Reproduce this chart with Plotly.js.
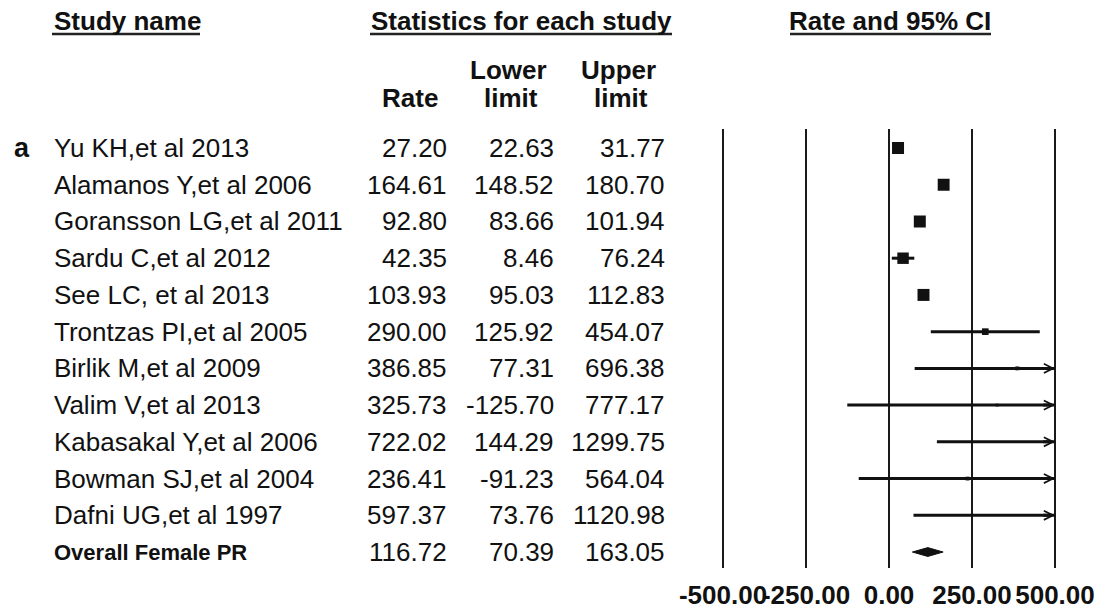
<!DOCTYPE html>
<html>
<head>
<meta charset="utf-8">
<script src="https://cdn.plot.ly/plotly-3.0.1.min.js"></script>
<style>
  html, body { margin: 0; padding: 0; background: #ffffff; }
  #chart { width: 1099px; height: 612px; }
</style>
</head>
<body>
<div id="chart"></div>
<script>
// ---------------- DATA ----------------
const studyNames = [
  "Yu KH,et al 2013",
  "Alamanos Y,et al 2006",
  "Goransson LG,et al 2011",
  "Sardu C,et al 2012",
  "See LC, et al 2013",
  "Trontzas PI,et al 2005",
  "Birlik M,et al 2009",
  "Valim V,et al 2013",
  "Kabasakal Y,et al 2006",
  "Bowman SJ,et al 2004",
  "Dafni UG,et al 1997"
];
const rates  = [27.20, 164.61, 92.80, 42.35, 103.93, 290.00, 386.85, 325.73, 722.02, 236.41, 597.37];
const lowers = [22.63, 148.52, 83.66, 8.46, 95.03, 125.92, 77.31, -125.70, 144.29, -91.23, 73.76];
const uppers = [31.77, 180.70, 101.94, 76.24, 112.83, 454.07, 696.38, 777.17, 1299.75, 564.04, 1120.98];

const overallLabel = "Overall Female PR";
const overallRate  = 116.72;
const overallLower = 70.39;
const overallUpper = 163.05;

const panelLetter = "a";
const tickValues = [-500, -250, 0, 250, 500];
const tickLabels = ["-500.00", "-250.00", "0.00", "250.00", "500.00"];

const headerStudy = "Study name";
const headerStats = "Statistics for each study";
const headerPlot  = "Rate and 95% CI";
const colRate  = ["Rate"];
const colLower = ["Lower", "limit"];
const colUpper = ["Upper", "limit"];

// ---------------- LAYOUT HELPERS ----------------
const W = 1099, H = 612;
const px = v => v / W;          // x pixel -> paper
const py = v => 1 - v / H;      // y pixel -> paper
const FONT = "Liberation Sans, Arial, Helvetica, sans-serif";
const INK = "#111111";

const xMin = tickValues[0], xMax = tickValues[tickValues.length - 1];
const nRows = studyNames.length + 1;           // studies + overall
const overallRow = studyNames.length;

// random-effects style weights: tau^2 solved so that the pooled SE matches the overall CI
const z = 1.96;
const vars = lowers.map((l, i) => Math.pow((uppers[i] - l) / (2 * z), 2));
const pooledW = 1 / Math.pow((overallUpper - overallLower) / (2 * z), 2);
let lo = 0, hi = 1e7;
for (let k = 0; k < 200; k++) {
  const mid = (lo + hi) / 2;
  const s = vars.reduce((a, v) => a + 1 / (v + mid), 0);
  if (s > pooledW) lo = mid; else hi = mid;
}
const tau2 = (lo + hi) / 2;
const weights = vars.map(v => 1 / (v + tau2));
const wMax = Math.max(...weights);
const markerSizes = weights.map(w => Math.max(2, 12 * Math.sqrt(w / wMax)));

const rowIdx = studyNames.map((_, i) => i);

// ---------------- TRACES ----------------
const traces = [];
// CI lines (clipped to the axis window)
rowIdx.forEach(i => {
  traces.push({
    type: "scatter", mode: "lines",
    x: [Math.max(lowers[i], xMin), Math.min(uppers[i], xMax)],
    y: [i, i],
    line: { color: INK, width: 3 },
    hoverinfo: "skip", showlegend: false
  });
});
// point estimates
traces.push({
  type: "scatter", mode: "markers",
  x: rates, y: rowIdx,
  marker: { symbol: "square", size: markerSizes, color: INK, opacity: 1, line: { width: 0 } },
  hoverinfo: "skip", showlegend: false
});
// overall diamond
const dh = 0.12;
traces.push({
  type: "scatter", mode: "lines",
  x: [overallLower, overallRate, overallUpper, overallRate, overallLower],
  y: [overallRow, overallRow - dh, overallRow, overallRow + dh, overallRow],
  fill: "toself", fillcolor: INK,
  line: { color: INK, width: 1 },
  hoverinfo: "skip", showlegend: false
});

// ---------------- ANNOTATIONS ----------------
const ann = [];
const rowFont = { family: FONT, size: 26, color: INK };
const boldFont = { family: FONT, size: 26, color: INK, weight: "bold" };

function fmt(v) { return v.toFixed(2); }

rowIdx.forEach(i => {
  ann.push({ xref: "paper", yref: "y", x: px(52), y: i, xanchor: "left", yanchor: "middle",
             text: studyNames[i], showarrow: false, font: rowFont });
  ann.push({ xref: "paper", yref: "y", x: px(449), y: i, xanchor: "right", yanchor: "middle",
             text: fmt(rates[i]), showarrow: false, font: rowFont });
  ann.push({ xref: "paper", yref: "y", x: px(556), y: i, xanchor: "right", yanchor: "middle",
             text: fmt(lowers[i]), showarrow: false, font: rowFont });
  ann.push({ xref: "paper", yref: "y", x: px(667), y: i, xanchor: "right", yanchor: "middle",
             text: fmt(uppers[i]), showarrow: false, font: rowFont });
  if (uppers[i] > xMax) {
    ann.push({ xref: "x", yref: "y", axref: "x", ayref: "y",
               x: xMax, y: i, ax: xMax - 40, ay: i, text: "", showarrow: true,
               arrowhead: 5, arrowsize: 0.6, arrowwidth: 3, arrowcolor: INK });
  }
});
// overall row
ann.push({ xref: "paper", yref: "y", x: px(52), y: overallRow, xanchor: "left", yanchor: "middle",
           text: overallLabel, showarrow: false,
           font: { family: FONT, size: 22, color: INK, weight: "bold" } });
[[449, overallRate], [556, overallLower], [667, overallUpper]].forEach(([xx, v]) => {
  ann.push({ xref: "paper", yref: "y", x: px(xx), y: overallRow, xanchor: "right", yanchor: "middle",
             text: fmt(v), showarrow: false, font: rowFont });
});
// panel letter
ann.push({ xref: "paper", yref: "y", x: px(12), y: 0, xanchor: "left", yanchor: "middle",
           text: panelLetter, showarrow: false, font: { family: FONT, size: 27, color: INK, weight: "bold" } });

// headers
ann.push({ xref: "paper", yref: "paper", x: px(52), y: py(21), xanchor: "left", yanchor: "middle",
           text: headerStudy, showarrow: false, font: boldFont });
ann.push({ xref: "paper", yref: "paper", x: px(521), y: py(21), xanchor: "center", yanchor: "middle",
           text: headerStats, showarrow: false, font: boldFont });
ann.push({ xref: "paper", yref: "paper", x: px(890), y: py(21), xanchor: "center", yanchor: "middle",
           text: headerPlot, showarrow: false, font: boldFont });
ann.push({ xref: "paper", yref: "paper", x: px(410), y: py(98), xanchor: "center", yanchor: "middle",
           text: colRate[0], showarrow: false, font: boldFont });
ann.push({ xref: "paper", yref: "paper", x: px(508), y: py(70), xanchor: "center", yanchor: "middle",
           text: colLower[0], showarrow: false, font: boldFont });
ann.push({ xref: "paper", yref: "paper", x: px(511), y: py(98), xanchor: "center", yanchor: "middle",
           text: colLower[1], showarrow: false, font: boldFont });
ann.push({ xref: "paper", yref: "paper", x: px(618), y: py(70), xanchor: "center", yanchor: "middle",
           text: colUpper[0], showarrow: false, font: boldFont });
ann.push({ xref: "paper", yref: "paper", x: px(621), y: py(98), xanchor: "center", yanchor: "middle",
           text: colUpper[1], showarrow: false, font: boldFont });

// header underlines
const shapes = [[52, 200], [370, 672], [790, 991]].map(([a, b]) => ({
  type: "line", xref: "paper", yref: "paper",
  x0: px(a), x1: px(b), y0: py(34), y1: py(34),
  line: { color: "#222222", width: 2.5 }
}));

// ---------------- AXES ----------------
const pxPerUnit = (1055 - 723) / (xMax - xMin);
const pad = 5;
const xDomain = [px(723 - pad * pxPerUnit), px(1055 + pad * pxPerUnit)];
const rowPx = 36.73, firstRowPx = 148, plotTop = 129, plotBottom = 568;
const yTop = -(firstRowPx - plotTop) / rowPx;
const yBottom = (nRows - 1) + (plotBottom - (firstRowPx + rowPx * (nRows - 1))) / rowPx;

const layout = {
  width: W, height: H, autosize: false,
  margin: { l: 0, r: 0, t: 0, b: 0 },
  paper_bgcolor: "#ffffff", plot_bgcolor: "#ffffff",
  showlegend: false,
  xaxis: {
    domain: xDomain,
    range: [xMin - pad, xMax + pad],
    tickmode: "array", tickvals: tickValues, ticktext: tickLabels,
    tickangle: 0,
    showgrid: true, gridcolor: "#1a1a1a", gridwidth: 2.5,
    zeroline: false, showline: false,
    ticks: "outside", ticklen: 4, tickcolor: "rgba(0,0,0,0)",
    tickfont: { family: FONT, size: 26, color: INK, weight: "bold" },
    fixedrange: true
  },
  yaxis: {
    domain: [py(plotBottom), py(plotTop)],
    range: [yBottom, yTop],
    showgrid: false, zeroline: false, showline: false, showticklabels: false, ticks: "",
    fixedrange: true
  },
  annotations: ann,
  shapes: shapes
};

Plotly.newPlot("chart", traces, layout, { displayModeBar: false, staticPlot: true });
</script>
</body>
</html>
